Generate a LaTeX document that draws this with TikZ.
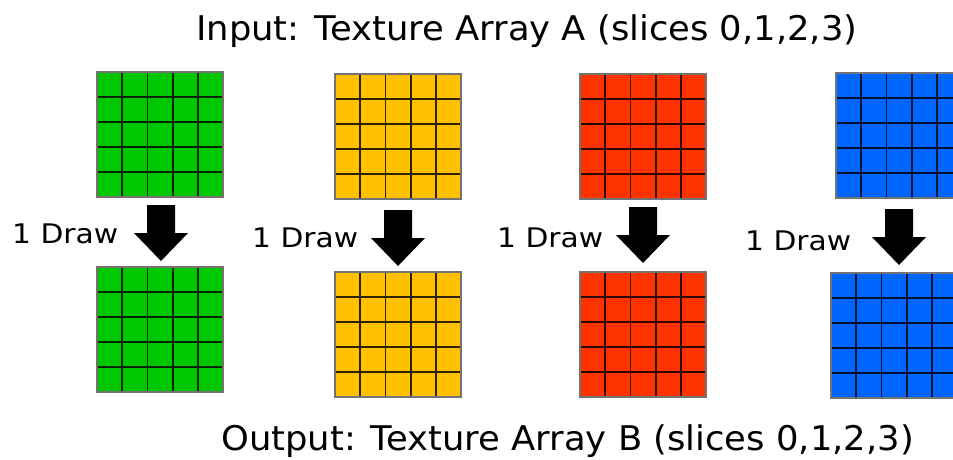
\documentclass[tikz,border=0pt]{standalone}
\usepackage{fontspec}
\setmainfont{DejaVu Sans}
\newfontfamily\vfont[FakeStretch=1.1]{DejaVu Sans}
\newfontfamily\tfont[FakeStretch=1.04]{DejaVu Sans}
\usetikzlibrary{calc}
\definecolor{tgreen}{RGB}{0,200,0}
\definecolor{tyellow}{RGB}{255,192,0}
\definecolor{tred}{RGB}{255,51,0}
\definecolor{tblue}{RGB}{0,102,255}
\tikzset{
  texgrid/.style={draw=black!55, line width=1pt, fill=#1, minimum width=126pt, minimum height=125pt,
    inner sep=0pt, outer sep=0pt, anchor=north west, rectangle},
  lbl/.style={font=\vfont\fontsize{27}{27}\selectfont, anchor=base west, inner sep=0pt},
  titlelbl/.style={font=\tfont\fontsize{34}{34}\selectfont, anchor=base west, inner sep=0pt},
  blockarrow/.style={fill=black}
}
\newcommand\mkgrid[4]{%
  \node[texgrid=#4] (#1) at (#2,#3) {};
  \foreach \i in {1,...,4}{
    \draw[#4!18!black, line width=1.8pt] ($(#1.north west)!\i/5!(#1.north east)$) -- ($(#1.south west)!\i/5!(#1.south east)$);
    \draw[#4!18!black, line width=1.8pt] ($(#1.north west)!\i/5!(#1.south west)$) -- ($(#1.north east)!\i/5!(#1.south east)$);
  }
  \draw[black!55, line width=1.2pt] (#1.north west) rectangle (#1.south east);
}
\newcommand\mkarrow[2]{%
  \fill[blockarrow] (#1-14,#2) -- (#1+14,#2) -- (#1+14,#2+28) -- (#1+27,#2+28) -- (#1,#2+56)
    -- (#1-27,#2+28) -- (#1-14,#2+28) -- cycle;
}
\begin{document}
\begin{tikzpicture}[x=1pt,y=-1pt]
  \clip (0,0) rectangle (953,459);
  \fill[white] (0,0) rectangle (953,459);
  \node[titlelbl] (tin) at (196,40) {Input: Texture Array A (slices 0,1,2,3)};
  \node[titlelbl] (tout) at (221,450) {Output: Texture Array B (slices 0,1,2,3)};

  \mkgrid{ga}{97}{72}{tgreen}
  \mkgrid{ya}{335}{74}{tyellow}
  \mkgrid{ra}{580}{74}{tred}
  \mkgrid{ba}{836}{73}{tblue}

  \mkgrid{gb}{97}{267}{tgreen}
  \mkgrid{yb}{335}{272}{tyellow}
  \mkgrid{rb}{580}{272}{tred}
  \mkgrid{bb}{831}{273}{tblue}

  \mkarrow{161}{205}
  \mkarrow{398}{210}
  \mkarrow{643}{207}
  \mkarrow{899}{209}

  \node[lbl] (d1) at (12,243) {1 Draw};
  \node[lbl] (d2) at (252,247) {1 Draw};
  \node[lbl] (d3) at (497,247) {1 Draw};
  \node[lbl] (d4) at (745,250) {1 Draw};
\end{tikzpicture}
\end{document}
